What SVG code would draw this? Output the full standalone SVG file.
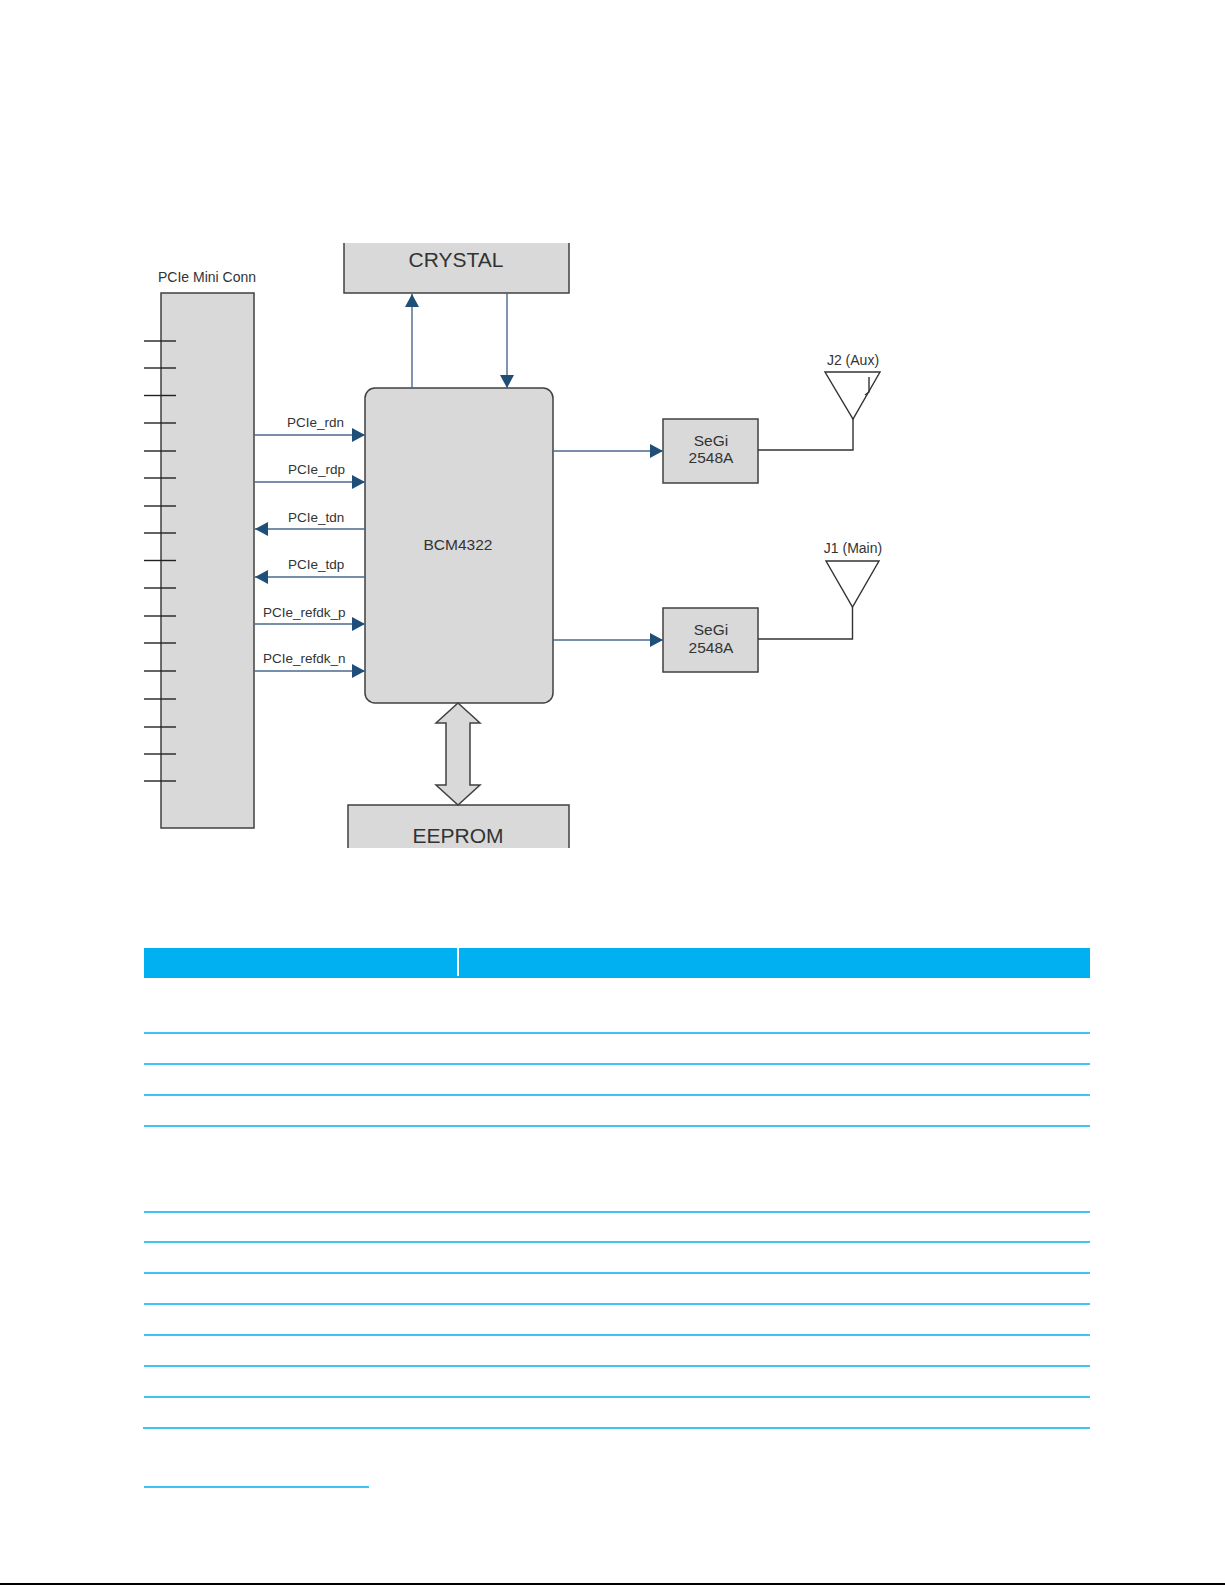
<svg xmlns="http://www.w3.org/2000/svg" width="1225" height="1585" viewBox="0 0 1225 1585">
<defs>
<style>
.box{fill:#d9d9d9;stroke:#404040;stroke-width:1.5}
.lbl{font-family:"Liberation Sans",Arial,sans-serif;fill:#333333}
.sig{font-size:13.5px}
.wire{stroke:#48678f;stroke-width:1.4;fill:none}
.blk{stroke:#333333;stroke-width:1.4;fill:none}
.pin{stroke:#222222;stroke-width:1.4}
.rule{stroke:#00B0F0;stroke-width:1.4}
</style>
<marker id="ah" markerUnits="userSpaceOnUse" markerWidth="14" markerHeight="14" refX="13" refY="7" orient="auto">
<path d="M0,0 L13,7 L0,14 z" fill="#1f4e79"/>
</marker>
</defs>
<rect width="1225" height="1585" fill="#ffffff"/>

<g id="pcie-conn">
<text class="lbl" x="158" y="282" font-size="14">PCIe Mini Conn</text>
<rect class="box" x="161" y="293" width="93" height="535"/>
<g class="pin">
<line x1="144" y1="341" x2="176" y2="341"/>
<line x1="144" y1="368" x2="176" y2="368"/>
<line x1="144" y1="395.5" x2="176" y2="395.5"/>
<line x1="144" y1="423" x2="176" y2="423"/>
<line x1="144" y1="451" x2="176" y2="451"/>
<line x1="144" y1="478" x2="176" y2="478"/>
<line x1="144" y1="506" x2="176" y2="506"/>
<line x1="144" y1="533" x2="176" y2="533"/>
<line x1="144" y1="560.5" x2="176" y2="560.5"/>
<line x1="144" y1="588" x2="176" y2="588"/>
<line x1="144" y1="616" x2="176" y2="616"/>
<line x1="144" y1="643" x2="176" y2="643"/>
<line x1="144" y1="671" x2="176" y2="671"/>
<line x1="144" y1="699" x2="176" y2="699"/>
<line x1="144" y1="727" x2="176" y2="727"/>
<line x1="144" y1="754" x2="176" y2="754"/>
<line x1="144" y1="781" x2="176" y2="781"/>
</g>
</g>

<g id="crystal">
<rect x="344" y="243" width="225" height="50" fill="#d9d9d9"/>
<path d="M344,243 V293 H569 V243" fill="none" stroke="#404040" stroke-width="1.5"/>
<text class="lbl" x="456" y="267" font-size="21" text-anchor="middle">CRYSTAL</text>
</g>

<g id="bcm4322">
<rect class="box" x="365" y="388" width="188" height="315" rx="10" ry="10"/>
<text class="lbl" x="458" y="550" font-size="15.5" text-anchor="middle">BCM4322</text>
</g>

<g id="eeprom">
<rect x="348" y="805" width="221" height="43" fill="#d9d9d9"/>
<path d="M348,848 V805 H569 V848" fill="none" stroke="#404040" stroke-width="1.5"/>
<text class="lbl" x="458" y="843" font-size="21" text-anchor="middle">EEPROM</text>
</g>

<g id="segi-aux">
<rect class="box" x="663" y="419" width="95" height="64"/>
<text class="lbl" x="711" y="446" font-size="15.5" text-anchor="middle">SeGi</text>
<text class="lbl" x="711" y="463" font-size="15.5" text-anchor="middle">2548A</text>
</g>

<g id="segi-main">
<rect class="box" x="663" y="608" width="95" height="64"/>
<text class="lbl" x="711" y="635" font-size="15.5" text-anchor="middle">SeGi</text>
<text class="lbl" x="711" y="653" font-size="15.5" text-anchor="middle">2548A</text>
</g>

<g id="ant-j2">
<text class="lbl" x="853" y="365" font-size="14" text-anchor="middle">J2 (Aux)</text>
<path class="blk" d="M825,372 H880 L853,419 Z"/>
<path class="blk" d="M869,377 V392 L865,395" stroke-width="1.2"/>
</g>

<g id="ant-j1">
<text class="lbl" x="853" y="553" font-size="14" text-anchor="middle">J1 (Main)</text>
<path class="blk" d="M826,561 H879 L852.5,607 Z"/>
</g>

<g id="connectors">
<line class="wire" x1="254" y1="435" x2="365" y2="435" marker-end="url(#ah)"/>
<line class="wire" x1="254" y1="482" x2="365" y2="482" marker-end="url(#ah)"/>
<line class="wire" x1="365" y1="529" x2="255" y2="529" marker-end="url(#ah)"/>
<line class="wire" x1="365" y1="577" x2="255" y2="577" marker-end="url(#ah)"/>
<line class="wire" x1="254" y1="624" x2="365" y2="624" marker-end="url(#ah)"/>
<line class="wire" x1="254" y1="671" x2="365" y2="671" marker-end="url(#ah)"/>
<line class="wire" x1="412" y1="388" x2="412" y2="294" marker-end="url(#ah)"/>
<line class="wire" x1="507" y1="293" x2="507" y2="388" marker-end="url(#ah)"/>
<line class="wire" x1="553" y1="451" x2="663" y2="451" marker-end="url(#ah)"/>
<line class="wire" x1="553" y1="640" x2="663" y2="640" marker-end="url(#ah)"/>
<path class="blk" d="M758,450 H853 V419"/>
<path class="blk" d="M758,639 H852.5 V607"/>
<polygon points="458,703 480,723 470,723 470,785 480,785 458,805 436,785 446,785 446,723 436,723" fill="#d9d9d9" stroke="#404040" stroke-width="1.5"/>
<text class="lbl sig" x="287" y="427">PCIe_rdn</text>
<text class="lbl sig" x="288" y="474">PCIe_rdp</text>
<text class="lbl sig" x="288" y="522">PCIe_tdn</text>
<text class="lbl sig" x="288" y="569">PCIe_tdp</text>
<text class="lbl sig" x="263" y="617">PCIe_refdk_p</text>
<text class="lbl sig" x="263" y="663">PCIe_refdk_n</text>
</g>

<g id="table">
<rect x="144" y="948" width="946" height="30" fill="#00B0F0"/>
<rect x="457" y="948" width="2" height="28" fill="#ffffff"/>
<line class="rule" x1="144" y1="1033" x2="1090" y2="1033"/>
<line class="rule" x1="144" y1="1064" x2="1090" y2="1064"/>
<line class="rule" x1="144" y1="1095" x2="1090" y2="1095"/>
<line class="rule" x1="144" y1="1126" x2="1090" y2="1126"/>
<line class="rule" x1="144" y1="1212" x2="1090" y2="1212"/>
<line class="rule" x1="144" y1="1242" x2="1090" y2="1242"/>
<line class="rule" x1="144" y1="1273" x2="1090" y2="1273"/>
<line class="rule" x1="144" y1="1304" x2="1090" y2="1304"/>
<line class="rule" x1="144" y1="1335" x2="1090" y2="1335"/>
<line class="rule" x1="144" y1="1366" x2="1090" y2="1366"/>
<line class="rule" x1="144" y1="1397" x2="1090" y2="1397"/>
<line class="rule" x1="143" y1="1428" x2="1090" y2="1428"/>
</g>

<g id="footer">
<line class="rule" x1="144" y1="1487" x2="369" y2="1487"/>
<line x1="0" y1="1584" x2="1225" y2="1584" stroke="#000000" stroke-width="2"/>
</g>
</svg>
